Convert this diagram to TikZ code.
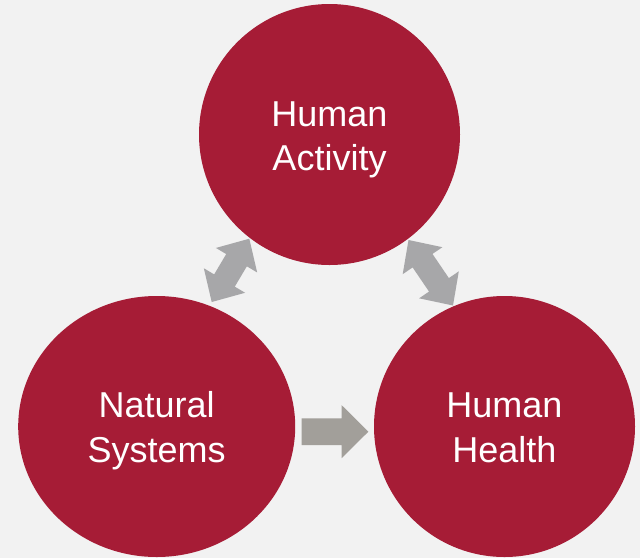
\documentclass[tikz,border=0pt]{standalone}
\usepackage{fontspec}
\setmainfont{Liberation Sans}
\usetikzlibrary{calc,shapes.geometric}
\definecolor{bgc}{HTML}{F2F2F2}
\definecolor{circred}{HTML}{A61C36}
\definecolor{dblgray}{HTML}{A7A7A9}
\definecolor{onegray}{HTML}{A29F9A}
\tikzset{
  circ/.style={fill=circred, draw=none, inner sep=0pt},
  lbl/.style={text=white, font=\fontsize{36}{44}\selectfont, anchor=base, inner sep=0pt},
}
% double block arrow between two tips: #1,#2 tips, #3 colour
\newcommand\dblblockarrow[3]{%
  \fill[#3] (#1)
    -- ($ ($(#1)!25pt!(#2)$)!24pt!90:(#2) $)
    -- ($ ($(#1)!25pt!(#2)$)!12pt!90:(#2) $)
    -- ($ ($(#2)!25pt!(#1)$)!12pt!-90:(#1) $)
    -- ($ ($(#2)!25pt!(#1)$)!24pt!-90:(#1) $)
    -- (#2)
    -- ($ ($(#2)!25pt!(#1)$)!24pt!90:(#1) $)
    -- ($ ($(#2)!25pt!(#1)$)!12pt!90:(#1) $)
    -- ($ ($(#1)!25pt!(#2)$)!12pt!-90:(#2) $)
    -- ($ ($(#1)!25pt!(#2)$)!24pt!-90:(#2) $)
    -- cycle;}
\begin{document}
\begin{tikzpicture}[x=1pt,y=-1pt]
  \fill[bgc] (0,0) rectangle (640,558);
  \useasboundingbox (0,0) rectangle (640,558);

  % circles
  \node[circ, circle, minimum size=261pt] (act) at (329.5,134.5) {};
  \node[circ, ellipse, minimum width=277pt, minimum height=261pt] (nat) at (156.7,426.5) {};
  \node[circ, circle, minimum size=261pt] (hea) at (504.5,426.5) {};

  % labels
  \node[lbl] (actA) at ($(act)+(0,-7.8)$) {Human};
  \node[lbl] (actB) at ($(act)+(0,35.5)$) {Activity};
  \node[lbl] (natA) at ($(nat)+(0,-9.2)$) {Natural};
  \node[lbl] (natB) at ($(nat)+(0,36.2)$) {Systems};
  \node[lbl] (heaA) at ($(hea)+(0,-9.2)$) {Human};
  \node[lbl] (heaB) at ($(hea)+(0,36.2)$) {Health};

  % arrow tips
  \coordinate (la1) at (249.3,238.7);
  \coordinate (la2) at (211.7,302);
  \coordinate (ra1) at (408.5,240);
  \coordinate (ra2) at (453,305.5);
  \dblblockarrow{la1}{la2}{dblgray}
  \dblblockarrow{ra1}{ra2}{dblgray}

  % single block arrow natural -> health
  \coordinate (hs) at (301.7,431.7);
  \coordinate (ht) at (368.3,431.7);
  \fill[onegray] (hs) -- ++(0,-13.3) -- ++(40,0) -- ++(0,-13.2)
     -- (ht) -- ++(-26.6,26.5) -- ++(0,-13.2) -- ++(-40,0) -- cycle;
\end{tikzpicture}
\end{document}
